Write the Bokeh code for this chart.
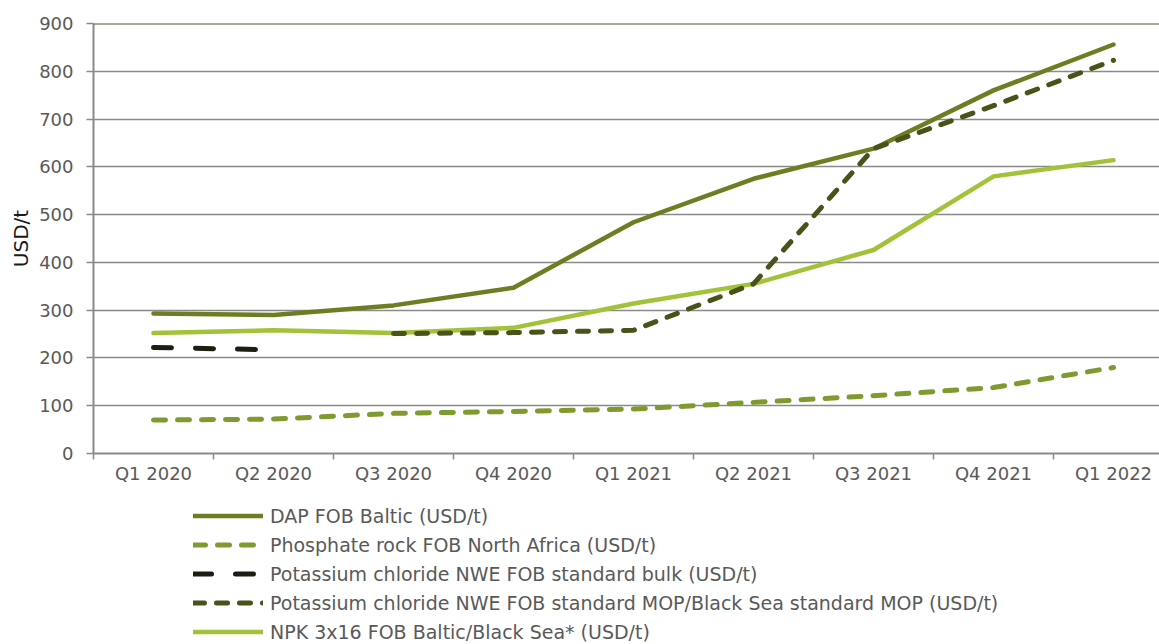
from bokeh.plotting import figure
from bokeh.layouts import column
from bokeh.models import (Range1d, FixedTicker, Legend, LegendItem, Span, ColumnDataSource)
from bokeh.embed import file_html
from bokeh.resources import INLINE

quarters = ["Q1 2020", "Q2 2020", "Q3 2020", "Q4 2020", "Q1 2021",
            "Q2 2021", "Q3 2021", "Q4 2021", "Q1 2022"]
nan = float("nan")
dap = [293, 290, 310, 347, 484, 575, 638, 760, 856]
phosphate = [70, 72, 84, 88, 93, 107, 121, 138, 180]
kcl_bulk = [222, 217, nan, nan, nan, nan, nan, nan, nan]
kcl_mop = [nan, nan, 251, 253, 258, 355, 638, 728, 823]
npk = [252, 258, 252, 263, 314, 355, 426, 580, 614]

labels = ["DAP FOB Baltic (USD/t)",
          "Phosphate rock FOB North Africa (USD/t)",
          "Potassium chloride NWE FOB standard bulk (USD/t)",
          "Potassium chloride NWE FOB standard MOP/Black Sea standard MOP (USD/t)",
          "NPK 3x16 FOB Baltic/Black Sea* (USD/t)"]

y_ticks = [0, 100, 200, 300, 400, 500, 600, 700, 800, 900]

FONT = "DejaVu Sans"
GRAY_TXT = "#595959"
AX = "#8a8a8a"

styles = {
    "dap": dict(line_color="#6b7f22", line_width=4.5, line_cap="round", line_join="round"),
    "phosphate": dict(line_color="#7f9a2f", line_width=5, line_dash="12 12",
                      line_cap="round", line_join="round"),
    "kcl_bulk": dict(line_color="#1d1d14", line_width=5, line_dash="18 24",
                     line_cap="round", line_join="round"),
    "kcl_mop": dict(line_color="#4a5219", line_width=5, line_dash="11 12",
                    line_cap="round", line_join="round"),
    "npk": dict(line_color="#a2c23a", line_width=4.5, line_cap="round", line_join="round"),
}
order_draw = ["phosphate", "kcl_bulk", "npk", "dap", "kcl_mop"]
order_legend = ["dap", "phosphate", "kcl_bulk", "kcl_mop", "npk"]

xc = [i + 0.5 for i in range(len(quarters))]

p = figure(width=1159, height=490, output_backend="svg", toolbar_location=None,
           x_range=Range1d(0, 1066 / 120), y_range=Range1d(0, 900),
           min_border_top=23, min_border_left=93, min_border_right=0,
           min_border_bottom=37)
p.outline_line_color = None
p.background_fill_color = "white"
p.border_fill_color = "white"

xa = p.xaxis[0]
xa.ticker = FixedTicker(ticks=xc, minor_ticks=list(range(len(quarters) + 1)))
xa.major_label_overrides = {x: q for x, q in zip(xc, quarters)}
xa.major_tick_line_color = None
xa.major_tick_in = 0
xa.major_tick_out = 0
xa.minor_tick_in = 0
xa.minor_tick_out = 6
xa.minor_tick_line_color = AX
xa.minor_tick_line_width = 1.5
xa.axis_line_color = AX
xa.axis_line_width = 2
xa.major_label_text_font = FONT
xa.major_label_text_font_size = "18px"
xa.major_label_text_color = GRAY_TXT
xa.major_label_standoff = 3

ya = p.yaxis[0]
ya.ticker = FixedTicker(ticks=y_ticks, minor_ticks=[])
ya.axis_line_color = AX
ya.axis_line_width = 2
ya.major_tick_line_color = AX
ya.major_tick_line_width = 1.5
ya.major_tick_in = 0
ya.major_tick_out = 7
ya.minor_tick_line_color = None
ya.major_label_text_font = FONT
ya.major_label_text_font_size = "18px"
ya.major_label_text_color = GRAY_TXT
ya.major_label_standoff = 13
ya.axis_label = "USD/t"
ya.axis_label_text_font = FONT
ya.axis_label_text_font_size = "20px"
ya.axis_label_text_font_style = "normal"
ya.axis_label_text_color = "#1a1a1a"
ya.axis_label_standoff = 3

p.xgrid.grid_line_color = None
p.ygrid.ticker = FixedTicker(ticks=y_ticks[1:-1])
p.ygrid.grid_line_color = AX
p.ygrid.grid_line_width = 1.5

p.add_layout(Span(location=900, dimension="width", line_color="#4e5a1c", line_width=2))

src = ColumnDataSource(dict(x=xc, dap=dap, phosphate=phosphate, kcl_bulk=kcl_bulk,
                            kcl_mop=kcl_mop, npk=npk))
for key in order_draw:
    p.line("x", key, source=src, **styles[key])

# legend panel below the chart
lg = figure(width=1159, height=154, output_backend="svg", toolbar_location=None,
            x_range=Range1d(0, 1), y_range=Range1d(0, 1),
            min_border=0, x_axis_type=None, y_axis_type=None)
lg.outline_line_color = None
lg.xgrid.visible = False
lg.ygrid.visible = False
items = []
for key, lab in zip(order_legend, labels):
    r = lg.line([nan, nan], [nan, nan], **styles[key])
    items.append(LegendItem(label=lab, renderers=[r]))

legend = Legend(items=items, location=(100, -2), orientation="vertical")
legend.glyph_width = 70
legend.glyph_height = 29
legend.label_height = 29
legend.spacing = 0
legend.padding = 0
legend.margin = 0
legend.label_standoff = 7
legend.label_text_font = FONT
legend.label_text_font_size = "19px"
legend.label_text_color = GRAY_TXT
legend.border_line_color = None
legend.background_fill_alpha = 0
lg.add_layout(legend, "center")

layout = column(p, lg, spacing=0, width=1159)
open("out.html", "w").write(file_html(layout, INLINE))
